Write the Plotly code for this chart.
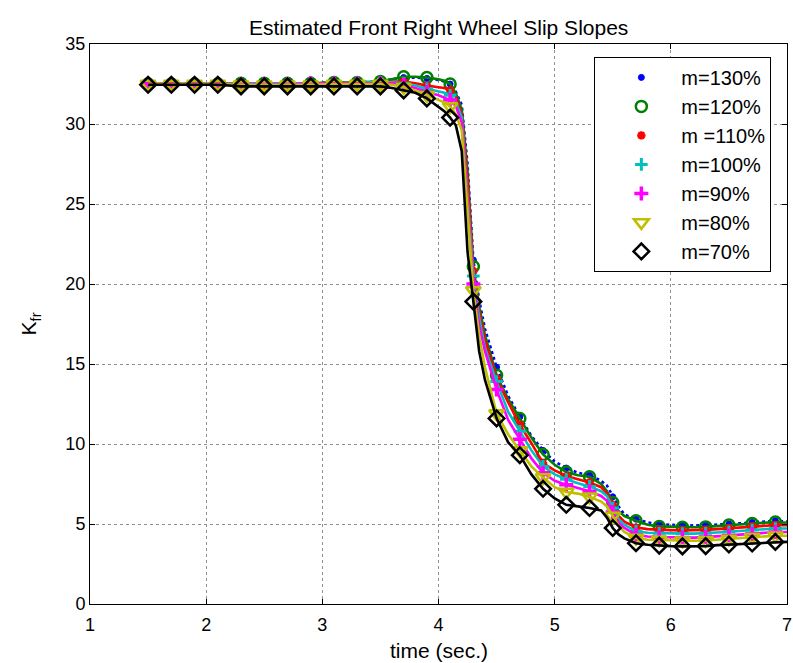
import plotly.graph_objects as go

# time samples (s)
t = [1.5, 1.7, 1.9, 2.1, 2.3, 2.5, 2.7, 2.9, 3.1, 3.3, 3.5,
     3.6, 3.7, 3.8, 3.9, 4.0,
     4.05, 4.1, 4.15, 4.2, 4.25, 4.3, 4.35, 4.4,
     4.5, 4.6, 4.7, 4.8, 4.9, 5.0, 5.1, 5.2, 5.3, 5.4,
     5.45, 5.5, 5.55,
     5.6, 5.7, 5.8, 5.9, 6.0, 6.1, 6.2, 6.3, 6.4, 6.5, 6.6, 6.7, 6.8, 6.9, 7.0]

m130 = [32.5, 32.5, 32.5, 32.5, 32.55, 32.55, 32.55, 32.55, 32.6, 32.6, 32.65,
        32.8, 32.9, 32.9, 32.85, 32.75,
        32.65, 32.5, 32.0, 31.2, 27.5, 21.5, 19.0, 17.2,
        14.8, 13.0, 11.7, 10.5, 9.6, 8.9, 8.5, 8.2, 8.05, 7.7,
        7.4, 6.7, 6.1,
        5.6, 5.3, 5.1, 5.0, 4.95, 4.9, 4.9, 4.92, 4.97, 5.0, 5.05, 5.1, 5.15, 5.2, 5.15]
m120 = [32.5, 32.5, 32.5, 32.5, 32.55, 32.55, 32.55, 32.55, 32.6, 32.6, 32.65,
        32.8, 32.95, 32.95, 32.9, 32.8,
        32.7, 32.5, 31.9, 30.9, 27.0, 21.1, 18.6, 16.8,
        14.3, 12.8, 11.6, 10.4, 9.35, 8.7, 8.25, 8.05, 7.95, 7.5,
        7.05, 6.35, 5.8,
        5.5, 5.2, 4.95, 4.85, 4.82, 4.8, 4.8, 4.82, 4.88, 4.93, 4.98, 5.03, 5.08, 5.12, 5.08]
m110 = [32.5, 32.5, 32.5, 32.5, 32.55, 32.55, 32.55, 32.55, 32.55, 32.6, 32.6,
        32.65, 32.65, 32.55, 32.4, 32.3,
        32.25, 32.1, 31.7, 30.6, 26.5, 20.8, 18.3, 16.5,
        14.1, 12.6, 11.2, 10.05, 8.8, 8.35, 8.0, 7.8, 7.6, 7.3,
        6.9, 6.2, 5.5,
        5.15, 4.78, 4.68, 4.63, 4.62, 4.6, 4.6, 4.63, 4.68, 4.73, 4.78, 4.83, 4.88, 4.93, 4.93]
m100 = [32.5, 32.5, 32.5, 32.5, 32.55, 32.55, 32.55, 32.55, 32.55, 32.6, 32.6,
        32.6, 32.55, 32.4, 32.2, 32.05,
        31.95, 31.8, 31.4, 30.4, 25.7, 20.5, 17.9, 16.0,
        13.9, 12.0, 10.8, 9.6, 8.6, 8.1, 7.8, 7.55, 7.35, 7.05,
        6.75, 6.0, 5.3,
        4.95, 4.55, 4.45, 4.42, 4.42, 4.4, 4.4, 4.42, 4.47, 4.52, 4.57, 4.62, 4.67, 4.72, 4.72]
m90 = [32.5, 32.5, 32.5, 32.5, 32.5, 32.5, 32.5, 32.55, 32.55, 32.55, 32.55,
       32.55, 32.45, 32.25, 32.0, 31.8,
       31.65, 31.5, 31.1, 30.1, 25.1, 20.0, 17.4, 15.8,
       13.4, 11.5, 10.3, 9.1, 8.2, 7.7, 7.45, 7.27, 7.05, 6.75,
       6.45, 5.75, 5.1,
       4.75, 4.33, 4.22, 4.17, 4.17, 4.15, 4.15, 4.18, 4.23, 4.28, 4.33, 4.38, 4.43, 4.5, 4.5]
m80 = [32.5, 32.5, 32.5, 32.5, 32.45, 32.45, 32.45, 32.45, 32.5, 32.5, 32.5,
       32.45, 32.3, 32.1, 31.8, 31.5,
       31.35, 31.1, 30.6, 29.6, 24.5, 19.6, 16.8, 14.8,
       11.9, 10.6, 9.6, 8.6, 7.9, 7.3, 7.0, 6.9, 6.7, 6.4,
       6.1, 5.5, 4.9,
       4.5, 4.12, 4.02, 4.0, 3.98, 3.95, 3.95, 3.97, 4.02, 4.07, 4.12, 4.17, 4.22, 4.27, 4.27]
m70 = [32.45, 32.45, 32.45, 32.45, 32.35, 32.35, 32.35, 32.35, 32.35, 32.35, 32.35,
       32.25, 32.1, 31.95, 31.6, 31.1,
       30.8, 30.4, 29.9, 28.3, 22.0, 18.9, 15.8, 14.0,
       11.6, 10.1, 9.3, 8.1, 7.2, 6.6, 6.2, 6.1, 6.0, 5.85,
       5.4, 4.75, 4.35,
       4.1, 3.8, 3.7, 3.65, 3.62, 3.6, 3.6, 3.62, 3.68, 3.72, 3.75, 3.78, 3.83, 3.88, 3.88]

labels = ["m=130%", "m=120%", "m =110%", "m=100%", "m=90%", "m=80%", "m=70%"]
series = [m130, m120, m110, m100, m90, m80, m70]
colors = ["#0000ff", "#008000", "#ff0000", "#00bfbf", "#ff00ff", "#bfbf00", "#000000"]
dashes = ["dot", "solid", "solid", "solid", "solid", "solid", "solid"]
symbols = ["circle", "circle-open", "asterisk-open", "cross-thin-open",
           "cross-thin-open", "triangle-down-open", "diamond-open"]
msizes = [6, 11, 7, 9, 10, 13, 12]
mwidths = [1, 2.5, 2.5, 3, 3.5, 2.5, 2.5]

x_ticks = [1, 2, 3, 4, 5, 6, 7]
y_ticks = [0, 5, 10, 15, 20, 25, 30, 35]

# marker sample every 0.2 s starting at 1.5 s
mark_idx = [i for i, v in enumerate(t) if abs((v - 1.5) / 0.2 - round((v - 1.5) / 0.2)) < 1e-6]

FONT = "Liberation Sans, Arial, sans-serif"
fig = go.Figure()
for k, (lab, y, c) in enumerate(zip(labels, series, colors)):
    fig.add_trace(go.Scatter(
        x=t, y=y, mode="lines",
        line=dict(color=c, width=2.6, dash=dashes[k]),
        showlegend=False, hoverinfo="skip"))
    fig.add_trace(go.Scatter(
        x=[t[i] for i in mark_idx], y=[y[i] for i in mark_idx], mode="markers",
        name=lab, legendgroup=lab,
        marker=dict(symbol=symbols[k], size=msizes[k], color=c,
                    line=dict(color=c, width=mwidths[k]))))

axis_common = dict(
    showline=True, linecolor="black", linewidth=1, mirror="ticks",
    ticks="inside", ticklen=5, tickcolor="black",
    showgrid=True, gridcolor="#909090", griddash="dot", gridwidth=1,
    zeroline=False, tickfont=dict(family=FONT, size=18, color="black"),
    ticklabeloverflow="allow",
)

fig.update_layout(
    width=793, height=663,
    margin=dict(l=90, r=1, t=44, b=59),
    paper_bgcolor="white", plot_bgcolor="white",
    font=dict(family=FONT, color="black"),
    xaxis=dict(range=[1, 7], tickvals=x_ticks, ticklabelstandoff=4, **axis_common),
    yaxis=dict(range=[0, 35], tickvals=y_ticks, **axis_common),
    showlegend=True,
    legend=dict(x=0.7236, y=0.977, xanchor="left", yanchor="top",
                bgcolor="white", bordercolor="black", borderwidth=1,
                font=dict(family=FONT, size=20, color="black"),
                itemwidth=70, tracegroupgap=0, indentation=6,
                entrywidth=100, entrywidthmode="pixels"),
    annotations=[
        dict(text="Estimated Front Right Wheel Slip Slopes", xref="paper", yref="paper",
             x=0.5, y=1 + 17 / 560, xanchor="center", yanchor="middle",
             showarrow=False, font=dict(family=FONT, size=21)),
        dict(text="time (sec.)", xref="paper", yref="paper",
             x=0.5, y=-46 / 560, xanchor="center", yanchor="middle",
             showarrow=False, font=dict(family=FONT, size=21)),
        dict(text="K<sub>fr</sub>", xref="paper", yref="paper",
             x=-60 / 702, y=0.5, xanchor="center", yanchor="middle", textangle=-90,
             showarrow=False, font=dict(family=FONT, size=21)),
    ],
)

fig.write_html("out.html")
